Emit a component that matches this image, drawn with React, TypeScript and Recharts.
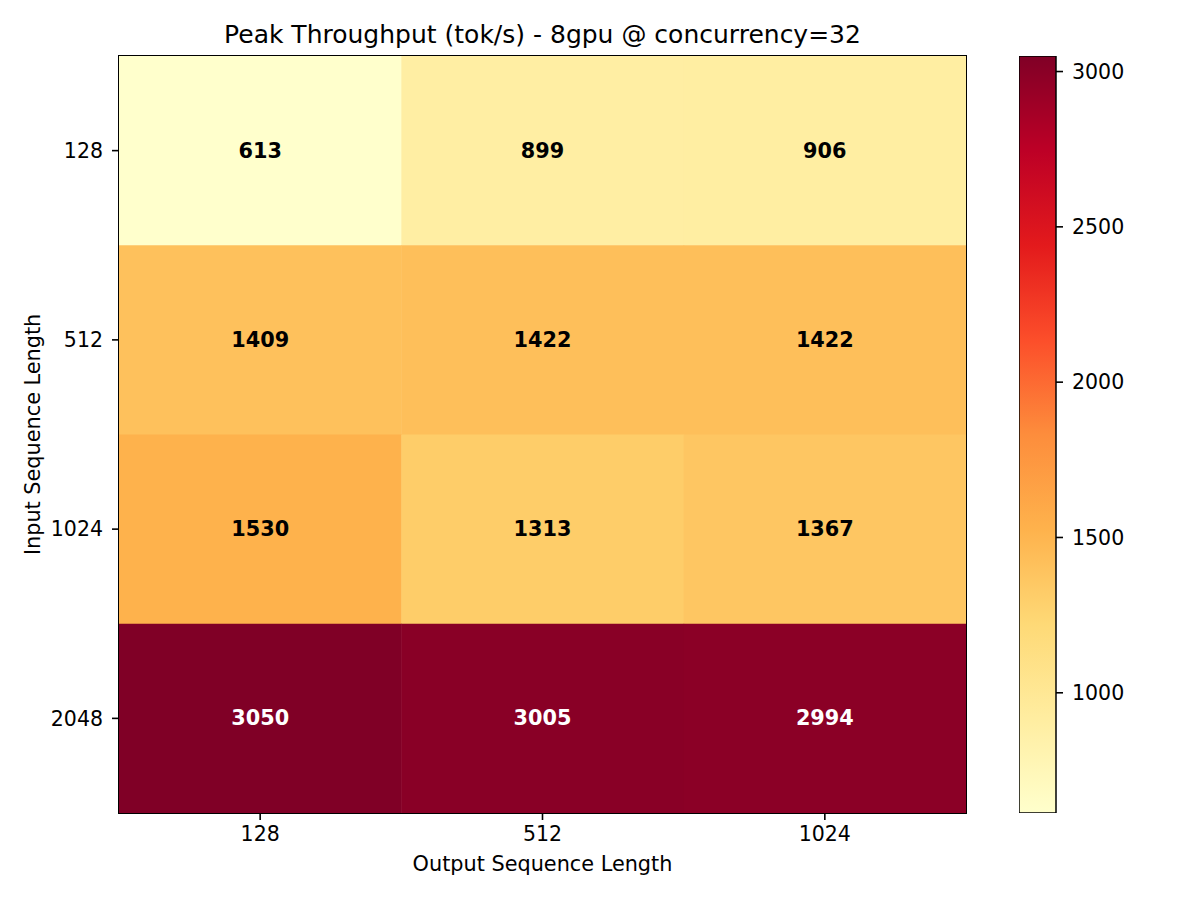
import React from "react";
import { ScatterChart, Scatter, XAxis, YAxis, BarChart, Bar } from "recharts";

// Axis categories
const outputLengths = ["128", "512", "1024"];
const inputLengths = ["128", "512", "1024", "2048"];

// Peak throughput per input length (columns = output length)
const input128 = [613, 899, 906];
const input512 = [1409, 1422, 1422];
const input1024 = [1530, 1313, 1367];
const input2048 = [3050, 3005, 2994];

const colorbarTicks = [1000, 1500, 2000, 2500, 3000];

const rows = [input128, input512, input1024, input2048];
const cells = rows.flatMap((row, r) =>
  row.map((value, c) => ({ col: c, row: r, value }))
);
const vMin = Math.min(...cells.map((d) => d.value));
const vMax = Math.max(...cells.map((d) => d.value));
const colorbarData = [{ name: "cb", range: [vMin, vMax] }];

// matplotlib YlOrRd (colorbrewer stops)
const YL_OR_RD = [
  "#ffffcc", "#ffeda0", "#fed976", "#feb24c", "#fd8d3c",
  "#fc4e2a", "#e31a1c", "#bd0026", "#800026",
];

const hexToRgb = (h: string) => [
  parseInt(h.slice(1, 3), 16),
  parseInt(h.slice(3, 5), 16),
  parseInt(h.slice(5, 7), 16),
];

const colorFor = (v: number) => {
  const t = Math.max(0, Math.min(1, (v - vMin) / (vMax - vMin)));
  const pos = t * (YL_OR_RD.length - 1);
  const i = Math.min(Math.floor(pos), YL_OR_RD.length - 2);
  const f = pos - i;
  const a = hexToRgb(YL_OR_RD[i]);
  const b = hexToRgb(YL_OR_RD[i + 1]);
  const c = a.map((x, k) => Math.round(x + (b[k] - x) * f));
  return `rgb(${c[0]},${c[1]},${c[2]})`;
};

// plot area geometry (px)
const PLOT_LEFT = 119;
const PLOT_TOP = 56;
const PLOT_W = 847;
const PLOT_H = 757;
const CELL_W = PLOT_W / outputLengths.length;
const CELL_H = PLOT_H / inputLengths.length;

const FONT = "'DejaVu Sans', sans-serif";

const HeatCell = (props: any) => {
  const { cx, cy, payload } = props;
  const light = payload.value > (vMin + vMax) / 2;
  return (
    <g>
      <rect
        x={cx - CELL_W / 2}
        y={cy - CELL_H / 2}
        width={CELL_W + 0.5}
        height={CELL_H + 0.5}
        fill={colorFor(payload.value)}
      />
      <text
        x={cx}
        y={cy}
        textAnchor="middle"
        dominantBaseline="central"
        fontWeight="bold"
        fontSize={20.8}
        fill={light ? "#fff" : "#000"}
      >
        {payload.value}
      </text>
    </g>
  );
};

const tickStyle = { fill: "#000", fontSize: 20.5 };
const tickLineStyle = { stroke: "#000", strokeWidth: 1.6 };

export default function App() {
  return (
    <div
      style={{
        position: "absolute",
        left: 0,
        top: 0,
        width: 1200,
        height: 900,
        background: "#fff",
        fontFamily: FONT,
        color: "#000",
      }}
    >
      {/* Title */}
      <div
        style={{
          position: "absolute",
          left: PLOT_LEFT,
          top: 22,
          width: PLOT_W,
          textAlign: "center",
          fontSize: 25,
          lineHeight: "25px",
          whiteSpace: "nowrap",
        }}
      >
        Peak Throughput (tok/s) - 8gpu @ concurrency=32
      </div>

      {/* Heatmap */}
      <div style={{ position: "absolute", left: 0, top: 0 }}>
        <ScatterChart
          width={1200}
          height={900}
          margin={{ top: PLOT_TOP, right: 1200 - PLOT_LEFT - PLOT_W, bottom: 900 - PLOT_TOP - PLOT_H - 30, left: 0 }}
        >
          <XAxis
            type="number"
            dataKey="col"
            domain={[-0.5, outputLengths.length - 0.5]}
            allowDataOverflow
            ticks={outputLengths.map((_, i) => i)}
            interval={0}
            tickFormatter={(v: number) => outputLengths[v]}
            axisLine={false}
            tickLine={tickLineStyle}
            tickSize={7}
            tickMargin={6}
            tick={tickStyle}
            height={30}
          />
          <YAxis
            type="number"
            dataKey="row"
            domain={[-0.5, inputLengths.length - 0.5]}
            allowDataOverflow
            reversed
            ticks={inputLengths.map((_, i) => i)}
            interval={0}
            tickFormatter={(v: number) => inputLengths[v]}
            axisLine={false}
            tickLine={tickLineStyle}
            tickSize={7}
            tickMargin={9}
            tick={tickStyle}
            width={PLOT_LEFT}
          />
          <Scatter
            data={cells}
            shape={(p: any) => <HeatCell {...p} />}
            isAnimationActive={false}
          />
        </ScatterChart>
      </div>

      {/* Plot frame */}
      <div
        style={{
          position: "absolute",
          left: PLOT_LEFT - 1,
          top: PLOT_TOP - 1,
          width: PLOT_W + 2,
          height: PLOT_H + 2,
          border: "1.6px solid #000",
          boxSizing: "border-box",
          pointerEvents: "none",
        }}
      />

      {/* Colorbar */}
      <div style={{ position: "absolute", left: 1019, top: 0 }}>
        <BarChart
          width={181}
          height={900}
          data={colorbarData}
          barCategoryGap={0}
          margin={{ top: PLOT_TOP, right: 0, bottom: 900 - PLOT_TOP - PLOT_H, left: 0 }}
        >
          <defs>
            <linearGradient id="ylorrd" x1="0" y1="1" x2="0" y2="0">
              {YL_OR_RD.map((c, i) => (
                <stop key={c} offset={`${(i / (YL_OR_RD.length - 1)) * 100}%`} stopColor={c} />
              ))}
            </linearGradient>
          </defs>
          <XAxis dataKey="name" hide />
          <YAxis
            orientation="right"
            type="number"
            domain={[vMin, vMax]}
            allowDataOverflow
            ticks={colorbarTicks}
            interval={0}
            axisLine={false}
            tickLine={tickLineStyle}
            tickSize={7}
            tickMargin={9}
            tick={tickStyle}
            width={144}
          />
          <Bar
            dataKey="range"
            fill="url(#ylorrd)"
            stroke="#000"
            strokeWidth={1.5}
            isAnimationActive={false}
          />
        </BarChart>
      </div>

      {/* Axis labels */}
      <div
        style={{
          position: "absolute",
          left: PLOT_LEFT,
          top: 854,
          width: PLOT_W,
          textAlign: "center",
          fontSize: 20.8,
          lineHeight: "20.8px",
        }}
      >
        Output Sequence Length
      </div>
      <div
        style={{
          position: "absolute",
          left: 33 - 200,
          top: PLOT_TOP + PLOT_H / 2 - 10.4,
          width: 400,
          height: 20.8,
          textAlign: "center",
          fontSize: 20.8,
          lineHeight: "20.8px",
          transform: "rotate(-90deg)",
        }}
      >
        Input Sequence Length
      </div>
    </div>
  );
}
